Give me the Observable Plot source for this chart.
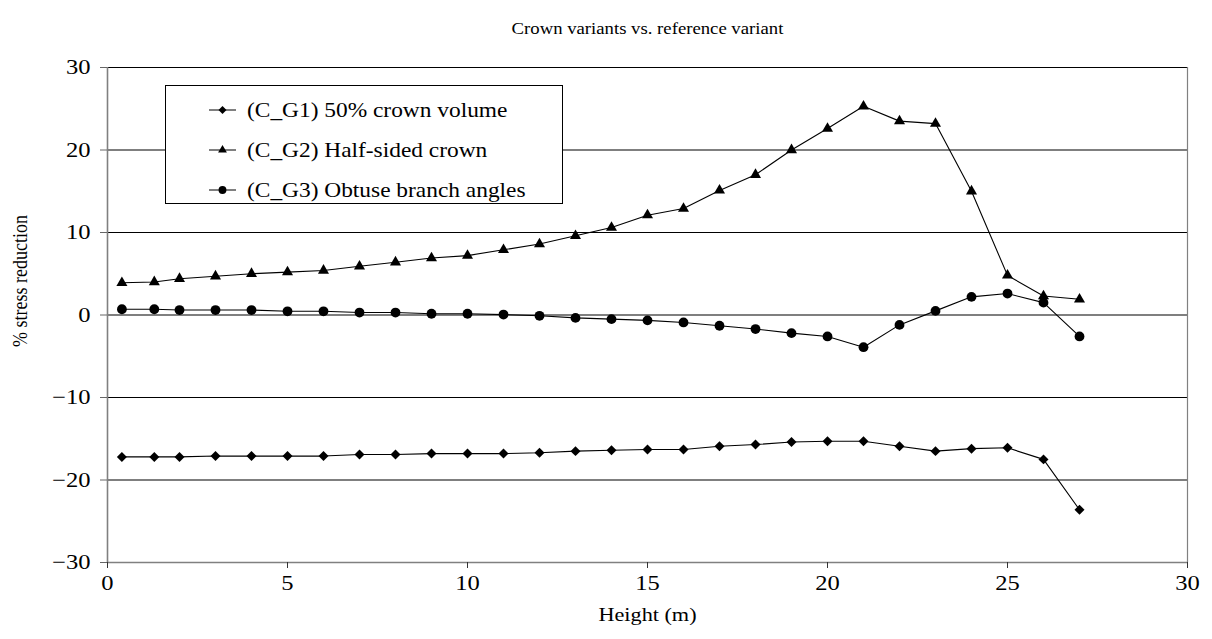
<!DOCTYPE html>
<html>
<head>
<meta charset="utf-8">
<script src="https://cdn.jsdelivr.net/npm/d3@7"></script>
<script src="https://cdn.jsdelivr.net/npm/@observablehq/plot@0.6"></script>
<style>
  body { margin: 0; background: #fff; }
</style>
</head>
<body>
<div id="chart"></div>
<script>
// Measurement heights along the stem (m)
const heights = [0.4, 1.3, 2, 3, 4, 5, 6, 7, 8, 9, 10, 11, 12, 13, 14, 15, 16, 17, 18, 19, 20, 21, 22, 23, 24, 25, 26, 27];

// % stress reduction for each crown variant
const g1Values = [-17.2, -17.2, -17.2, -17.1, -17.1, -17.1, -17.1, -16.9, -16.9, -16.8, -16.8, -16.8, -16.7, -16.5, -16.4, -16.3, -16.3, -15.9, -15.7, -15.4, -15.3, -15.3, -15.9, -16.5, -16.2, -16.1, -17.5, -23.6];
const g2Values = [3.9, 4.0, 4.4, 4.7, 5.0, 5.2, 5.4, 5.9, 6.4, 6.9, 7.2, 7.9, 8.6, 9.6, 10.6, 12.1, 12.9, 15.1, 17.0, 20.0, 22.6, 25.3, 23.5, 23.2, 15.0, 4.8, 2.3, 1.9];
const g3Values = [0.7, 0.7, 0.6, 0.6, 0.6, 0.45, 0.45, 0.3, 0.3, 0.15, 0.15, 0.05, -0.1, -0.35, -0.5, -0.65, -0.9, -1.3, -1.7, -2.2, -2.6, -3.9, -1.2, 0.5, 2.2, 2.6, 1.5, -2.6];

const seriesNames = ["(C_G1) 50% crown volume", "(C_G2) Half-sided crown", "(C_G3) Obtuse branch angles"];
const seriesSymbols = ["diamond2", "triangle", "circle"];
const seriesRadius = [4.5, 4.1, 4.9];

const xTicks = [0, 5, 10, 15, 20, 25, 30];
const yTicks = [-30, -20, -10, 0, 10, 20, 30];

const titleText = "Crown variants vs. reference variant";
const xLabel = "Height (m)";
const yLabel = "% stress reduction";

const FONT = '"Liberation Serif", "Times New Roman", serif';

const seriesValues = [g1Values, g2Values, g3Values];
const rows = seriesValues.map((vals, s) =>
  heights.map((h, i) => ({ series: seriesNames[s], height: h, value: vals[i] }))
);

const W = 1212, H = 639;
const margin = { top: 67, right: 25, bottom: 77, left: 107 };

const plot = Plot.plot({
  width: W,
  height: H,
  marginTop: margin.top,
  marginRight: margin.right,
  marginBottom: margin.bottom,
  marginLeft: margin.left,
  style: { background: "#fff", overflow: "visible", fontSize: "21px", color: "#000", fontFamily: FONT },
  x: { domain: [0, 30], label: null },
  y: { domain: [-30, 30], label: null },
  marks: [
    // horizontal gridlines
    Plot.ruleY(yTicks.filter(v => v > -30), { stroke: "#000", strokeWidth: 1.1 }),
    // plot-area border and axis lines
    Plot.ruleX([30], { stroke: "#808080", strokeWidth: 1.2 }),
    Plot.ruleY([-30], { stroke: "#808080", strokeWidth: 1.6 }),
    Plot.ruleX([0], { stroke: "#808080", strokeWidth: 1.6 }),
    Plot.axisX({ ticks: xTicks, tickSize: 6, tickPadding: 7, stroke: "#333", fontSize: 21, label: null }),
    Plot.axisY({ ticks: yTicks, tickSize: 7, tickPadding: 10, stroke: "#666", fontSize: 21, label: null }),
    // series lines and markers
    ...rows.map(r => Plot.line(r, { x: "height", y: "value", stroke: "#000", strokeWidth: 1.1 })),
    ...rows.map((r, s) => Plot.dot(r, { x: "height", y: "value", symbol: seriesSymbols[s], r: seriesRadius[s], fill: "#000", stroke: "none" })),
    // titles
    Plot.text([titleText], { frameAnchor: "top", dy: -45, fontSize: 16, fill: "#000" }),
    Plot.text([xLabel], { frameAnchor: "bottom", dy: 58, fontSize: 19, fill: "#000" }),
    Plot.text([yLabel], { frameAnchor: "left", rotate: -90, textAnchor: "middle", dx: -87, dy: -34, fontSize: 18, fill: "#000" })
  ]
});

document.getElementById("chart").appendChild(plot);

// Legend box in the upper left of the plot area
const svg = d3.select(plot);
const legend = svg.append("g").attr("class", "legend").attr("text-anchor", "start");
legend.append("rect")
  .attr("x", 165.5).attr("y", 85.5)
  .attr("width", 397).attr("height", 118)
  .attr("fill", "#fff").attr("stroke", "#000").attr("stroke-width", 1);
const rowY = [110, 150, 190];
seriesNames.forEach((name, i) => {
  const y = rowY[i];
  legend.append("line")
    .attr("x1", 209).attr("x2", 236).attr("y1", y).attr("y2", y)
    .attr("stroke", "#000").attr("stroke-width", 1);
  const r = seriesRadius[i] * 0.8;
  const sym = seriesSymbols[i] === "diamond2" ? d3.symbolDiamond2
            : seriesSymbols[i] === "triangle" ? d3.symbolTriangle : d3.symbolCircle;
  legend.append("path")
    .attr("d", d3.symbol(sym, r * r * Math.PI)())
    .attr("transform", `translate(222.5,${y})`)
    .attr("fill", "#000");
  legend.append("text")
    .attr("x", 247).attr("y", y).attr("dy", "0.35em")
    .attr("text-anchor", "start")
    .attr("font-size", 20).attr("fill", "#000")
    .text(name);
});

// Typeset text slightly wide, as in the printed figure
const STRETCH = 1.17;
svg.selectAll("text").each(function () {
  const b = this.getBBox();
  const t = this.getAttribute("transform") || "";
  if (t.includes("rotate")) {
    const cy = b.y + b.height / 2;
    this.setAttribute("transform", `${t} translate(0,${cy}) scale(1,${STRETCH}) translate(0,${-cy})`);
  } else {
    const anchor = getComputedStyle(this).textAnchor;
    const ax = anchor === "end" ? b.x + b.width : anchor === "middle" ? b.x + b.width / 2 : b.x;
    this.setAttribute("transform", `${t} translate(${ax},0) scale(${STRETCH},1) translate(${-ax},0)`);
  }
});
</script>
</body>
</html>
